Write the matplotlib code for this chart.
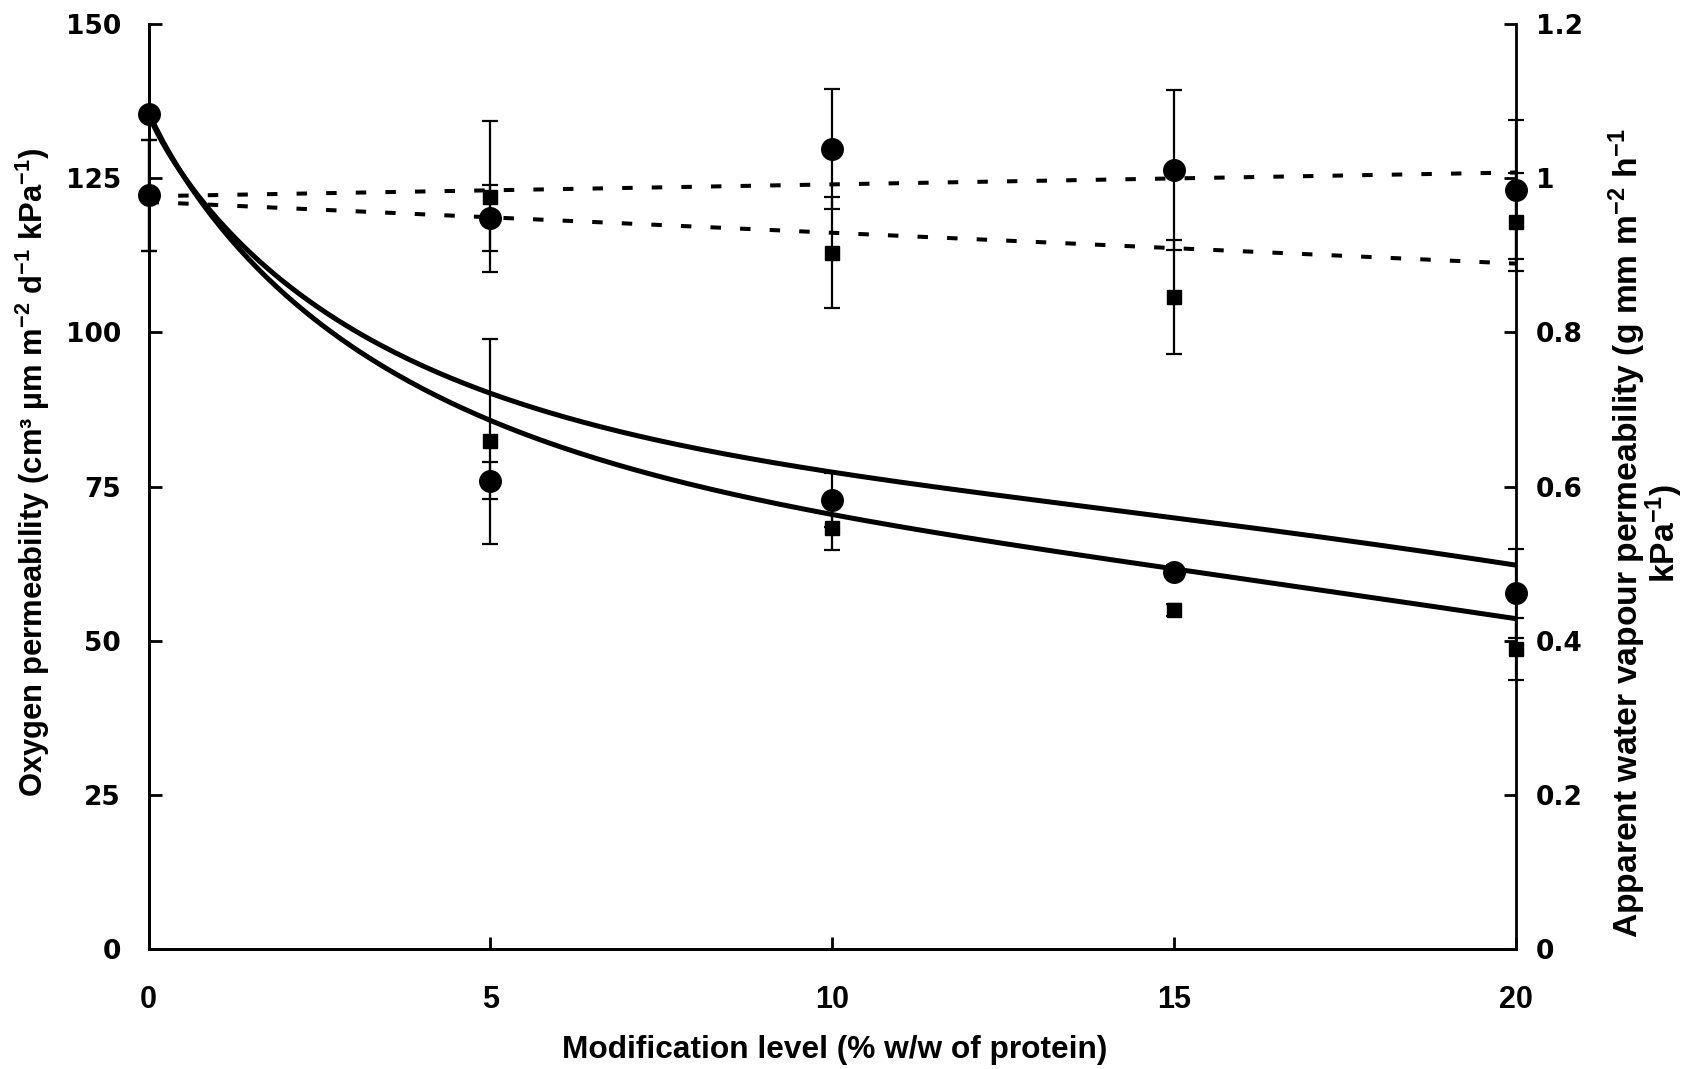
import numpy as np
import matplotlib
matplotlib.use("Agg")
import matplotlib.pyplot as plt

# modification level (% w/w of protein)
levels = [0, 5, 10, 15, 20]

# apparent water vapour permeability (right axis)
wvp_circle = [0.978, 0.948, 1.038, 1.011, 0.985]
wvp_circle_err = [0.072, 0.043, 0.078, 0.104, 0.090]
wvp_square = [0.978, 0.976, 0.903, 0.846, 0.943]
wvp_square_err = [0.072, 0.098, 0.072, 0.074, 0.064]

# oxygen permeability (left axis)
o2_circle = [135.4, 75.9, 72.8, 61.2, 57.7]
o2_circle_err = [0.0, 3.0, 4.4, 1.0, 7.2]
o2_square = [135.4, 82.3, 68.2, 55.0, 48.6]
o2_square_err = [0.0, 16.6, 3.5, 1.0, 5.0]

# fitted O2 curves, read along their length
fit_x = [0, 0.44, 0.68, 0.92, 1.17, 1.41, 1.90, 2.39, 2.87, 3.36, 3.85,
         4.84, 5.0, 6.02, 7.77, 10.0, 10.69, 13.62, 16.54, 20.0]
fit_upper = [135.4, 127.4, 123.1, 118.8, 115.5, 113.1, 109.0, 105.2, 102.0, 98.9,
             96.0, 89.8, 89.3, 86.3, 82.0, 77.4, 76.3, 72.0, 67.5, 62.3]
fit_lower = [135.4, 127.3, 122.9, 118.5, 114.7, 111.7, 106.9, 102.8, 99.3, 96.0,
             92.7, 85.5, 84.8, 80.9, 76.0, 70.9, 69.2, 63.7, 59.1, 53.6]

left_ticks = [0, 25, 50, 75, 100, 125, 150]
right_ticks = [0, 0.2, 0.4, 0.6, 0.8, 1.0, 1.2]
right_labels = ["0", "0.2", "0.4", "0.6", "0.8", "1", "1.2"]

label_font = "Liberation Sans"
plt.rcParams["mathtext.fontset"] = "custom"
plt.rcParams["mathtext.bf"] = "Liberation Sans:bold"
plt.rcParams["mathtext.rm"] = "Liberation Sans:bold"
plt.rcParams["mathtext.default"] = "bf"


def smooth_curve(x, y, n=300):
    # polynomial in sqrt(x) through the read curve points
    u = np.sqrt(np.asarray(x))
    coef = np.polyfit(u, y, 5)
    xs = np.linspace(0, 20, n)
    return xs, np.polyval(coef, np.sqrt(xs))


fig = plt.figure(figsize=(17, 10.69), dpi=100)
ax = fig.add_axes([0.0874, 0.1123, 0.8044, 0.8652])
ax2 = ax.twinx()

k = "black"
# solid fitted curves (oxygen)
for ys in (fit_upper, fit_lower):
    cx, cy = smooth_curve(fit_x, ys)
    ax.plot(cx, cy, color=k, lw=3.6, zorder=2)

# dashed linear fits (water vapour)
xx = np.array([0, 20])
for series in (wvp_circle, wvp_square):
    p = np.polyfit(levels, series, 1)
    ax2.plot(xx, np.polyval(p, xx), color=k, lw=2.9, dashes=(2.6, 4.75), zorder=2)

eb = dict(color=k, ecolor=k, elinewidth=1.6, capsize=6, capthick=1.6, ls="none", clip_on=False)
ax.errorbar(levels, o2_square, yerr=o2_square_err, marker="s", ms=10, zorder=3, **eb)
ax.errorbar(levels, o2_circle, yerr=o2_circle_err, marker="o", ms=15.5, zorder=4, **eb)
ax2.errorbar(levels, wvp_square, yerr=wvp_square_err, marker="s", ms=10, zorder=3, **eb)
ax2.errorbar(levels, wvp_circle, yerr=wvp_circle_err, marker="o", ms=15.5, zorder=4, **eb)

ax.set_xlim(0, 20)
ax.set_ylim(0, 150)
ax2.set_ylim(0, 1.2)
ax.set_xticks(levels)
ax.set_yticks(left_ticks)
ax2.set_yticks(right_ticks)
ax2.set_yticklabels(right_labels)

for a in (ax, ax2):
    a.spines["top"].set_visible(False)
    for s in a.spines.values():
        s.set_linewidth(2)
ax.spines["right"].set_visible(False)

ax.tick_params(axis="y", direction="in", length=9, width=2, pad=20)
ax.tick_params(axis="x", direction="in", length=9, width=2, pad=26)
ax2.tick_params(axis="y", direction="in", length=9, width=2, pad=14)
for lbl in ax.get_yticklabels() + ax2.get_yticklabels():
    lbl.set_fontfamily("DejaVu Sans")
    lbl.set_fontweight("bold")
    lbl.set_fontsize(19)
for lbl in ax.get_xticklabels():
    lbl.set_fontfamily(label_font)
    lbl.set_fontweight("bold")
    lbl.set_fontsize(22)

ax.set_xlabel("Modification level (% w/w of protein)", family=label_font,
              fontweight="bold", fontsize=22.8)
ax.xaxis.set_label_coords(0.502, -0.093)
ax.set_ylabel("Oxygen permeability (cm\u00b3 \u00b5m m$^{-2}$ d$^{-1}$ kPa$^{-1}$)",
              family=label_font, fontweight="bold", fontsize=22.3)
ax.yaxis.set_label_coords(-0.0706, 0.515)
ax2.set_ylabel("Apparent water vapour permeability (g mm m$^{-2}$ h$^{-1}$\nkPa$^{-1}$)",
               family=label_font, fontweight="bold", fontsize=24.2, rotation=90,
               multialignment="center", linespacing=0.85)
ax2.yaxis.set_label_coords(1.0665, 0.449)

fig.savefig("out.png", dpi=100, facecolor="white")
